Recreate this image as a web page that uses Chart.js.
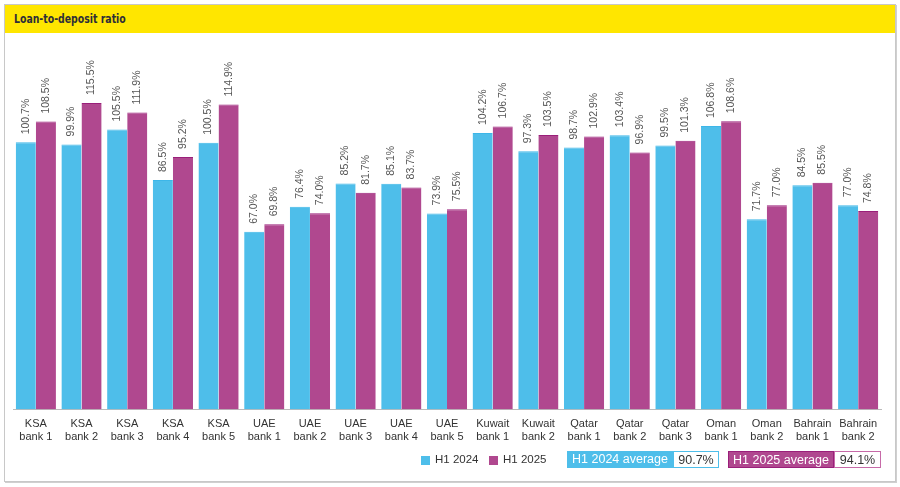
<!DOCTYPE html>
<html>
<head>
<meta charset="utf-8">
<script src="https://cdn.jsdelivr.net/npm/chart.js@4.4.1/dist/chart.umd.min.js"></script>
<style>
  body { margin: 0; background: #fff; font-family: "Liberation Sans", Arial, sans-serif; }
  #frame { position: absolute; left: 4px; top: 4px; width: 890px; height: 476px; border: 1px solid #c8c8c8; box-shadow: 1px 1px 0 #d0d0d0; }
  #title { position: absolute; left: 0; top: 0; width: 890px; height: 28px; background: #ffe600; }
  #title span { position: absolute; left: 9px; top: 6px; font-weight: bold; font-size: 13px; color: #2e2e38; font-family: "DejaVu Sans Condensed", "Liberation Sans", sans-serif; display: inline-block; transform: scaleX(0.8); transform-origin: left center; }
  #chartBox { position: absolute; left: 0; top: 29px; width: 890px; height: 447px; }
  .legend { position: absolute; font-size: 11.5px; color: #333; }
  .sq { position: absolute; width: 9px; height: 9px; }
  .avg { position: absolute; height: 17px; line-height: 17px; font-size: 12.5px; text-align: center; box-sizing: border-box; }
</style>
</head>
<body>
<div id="frame">
  <div id="title"><span>Loan-to-deposit ratio</span></div>
  <div id="chartBox"><canvas id="ldrChart"></canvas></div>
  <div class="sq" style="left:416px;top:451px;background:#4ebeea"></div>
  <div class="legend" style="left:430px;top:448px">H1 2024</div>
  <div class="sq" style="left:484px;top:451px;background:#b0488f"></div>
  <div class="legend" style="left:498px;top:448px">H1 2025</div>
  <div class="avg" style="left:562px;top:446px;width:106px;background:#4ebeea;color:#fff" id="avgLbl1"></div>
  <div class="avg" style="left:668px;top:446px;width:46px;background:#fff;border:1px solid #4ebeea;color:#333" id="avgVal1"></div>
  <div class="avg" style="left:723px;top:446px;width:106px;background:#b0488f;color:#fff;border:1px solid #9a1f7a" id="avgLbl2"></div>
  <div class="avg" style="left:829px;top:446px;width:47px;background:#fff;border:1px solid #c76aa8;color:#333" id="avgVal2"></div>
</div>
<script>
const categories = [
  ['KSA', 'bank 1'], ['KSA', 'bank 2'], ['KSA', 'bank 3'], ['KSA', 'bank 4'], ['KSA', 'bank 5'],
  ['UAE', 'bank 1'], ['UAE', 'bank 2'], ['UAE', 'bank 3'], ['UAE', 'bank 4'], ['UAE', 'bank 5'],
  ['Kuwait', 'bank 1'], ['Kuwait', 'bank 2'],
  ['Qatar', 'bank 1'], ['Qatar', 'bank 2'], ['Qatar', 'bank 3'],
  ['Oman', 'bank 1'], ['Oman', 'bank 2'],
  ['Bahrain', 'bank 1'], ['Bahrain', 'bank 2']
];
const h1_2024 = [100.7, 99.9, 105.5, 86.5, 100.5, 67.0, 76.4, 85.2, 85.1, 73.9, 104.2, 97.3, 98.7, 103.4, 99.5, 106.8, 71.7, 84.5, 77.0];
const h1_2025 = [108.5, 115.5, 111.9, 95.2, 114.9, 69.8, 74.0, 81.7, 83.7, 75.5, 106.7, 103.5, 102.9, 96.9, 101.3, 108.6, 77.0, 85.5, 74.8];
const seriesNames = ['H1 2024', 'H1 2025'];
const averages = [90.7, 94.1];

document.getElementById('avgLbl1').textContent = seriesNames[0] + ' average';
document.getElementById('avgVal1').textContent = averages[0].toFixed(1) + '%';
document.getElementById('avgLbl2').textContent = seriesNames[1] + ' average';
document.getElementById('avgVal2').textContent = averages[1].toFixed(1) + '%';

// etiket nilai diputar di atas setiap batang
const valueLabels = {
  id: 'valueLabels',
  afterDatasetsDraw(chart) {
    const ctx = chart.ctx;
    ctx.save();
    ctx.font = '10.5px "Liberation Sans", Arial, sans-serif';
    ctx.fillStyle = '#555';
    ctx.textAlign = 'left';
    ctx.textBaseline = 'middle';
    chart.data.datasets.forEach((ds, i) => {
      chart.getDatasetMeta(i).data.forEach((bar, j) => {
        ctx.save();
        ctx.translate(bar.x, bar.y - 8);
        ctx.rotate(-Math.PI / 2);
        ctx.fillText(ds.data[j].toFixed(1) + '%', 0, 0);
        ctx.restore();
      });
    });
    ctx.restore();
  }
};

new Chart(document.getElementById('ldrChart'), {
  type: 'bar',
  data: {
    labels: categories,
    datasets: [
      { label: seriesNames[0], data: h1_2024, backgroundColor: '#4ebeea', borderColor: '#3db6e8', borderWidth: { top: 1, left: 0, right: 0, bottom: 0 }, categoryPercentage: 0.88, barPercentage: 1 },
      { label: seriesNames[1], data: h1_2025, backgroundColor: '#b0488f', borderColor: '#9a1f7a', borderWidth: { top: 1, left: 0, right: 0, bottom: 0 }, categoryPercentage: 0.88, barPercentage: 1 }
    ]
  },
  options: {
    responsive: true,
    maintainAspectRatio: false,
    animation: false,
    layout: { padding: { left: 8, right: 14, top: 4, bottom: 37 } },
    scales: {
      x: {
        grid: { display: false },
        border: { display: true, color: '#bbbbbb' },
        ticks: { color: '#333', font: { size: 11, family: '"Liberation Sans", Arial, sans-serif', lineHeight: 1.2 }, maxRotation: 0, padding: 0 }
      },
      y: { display: false, min: 0, max: 140 }
    },
    plugins: {
      legend: { display: false },
      tooltip: { enabled: false }
    }
  },
  plugins: [valueLabels]
});
</script>
</body>
</html>
